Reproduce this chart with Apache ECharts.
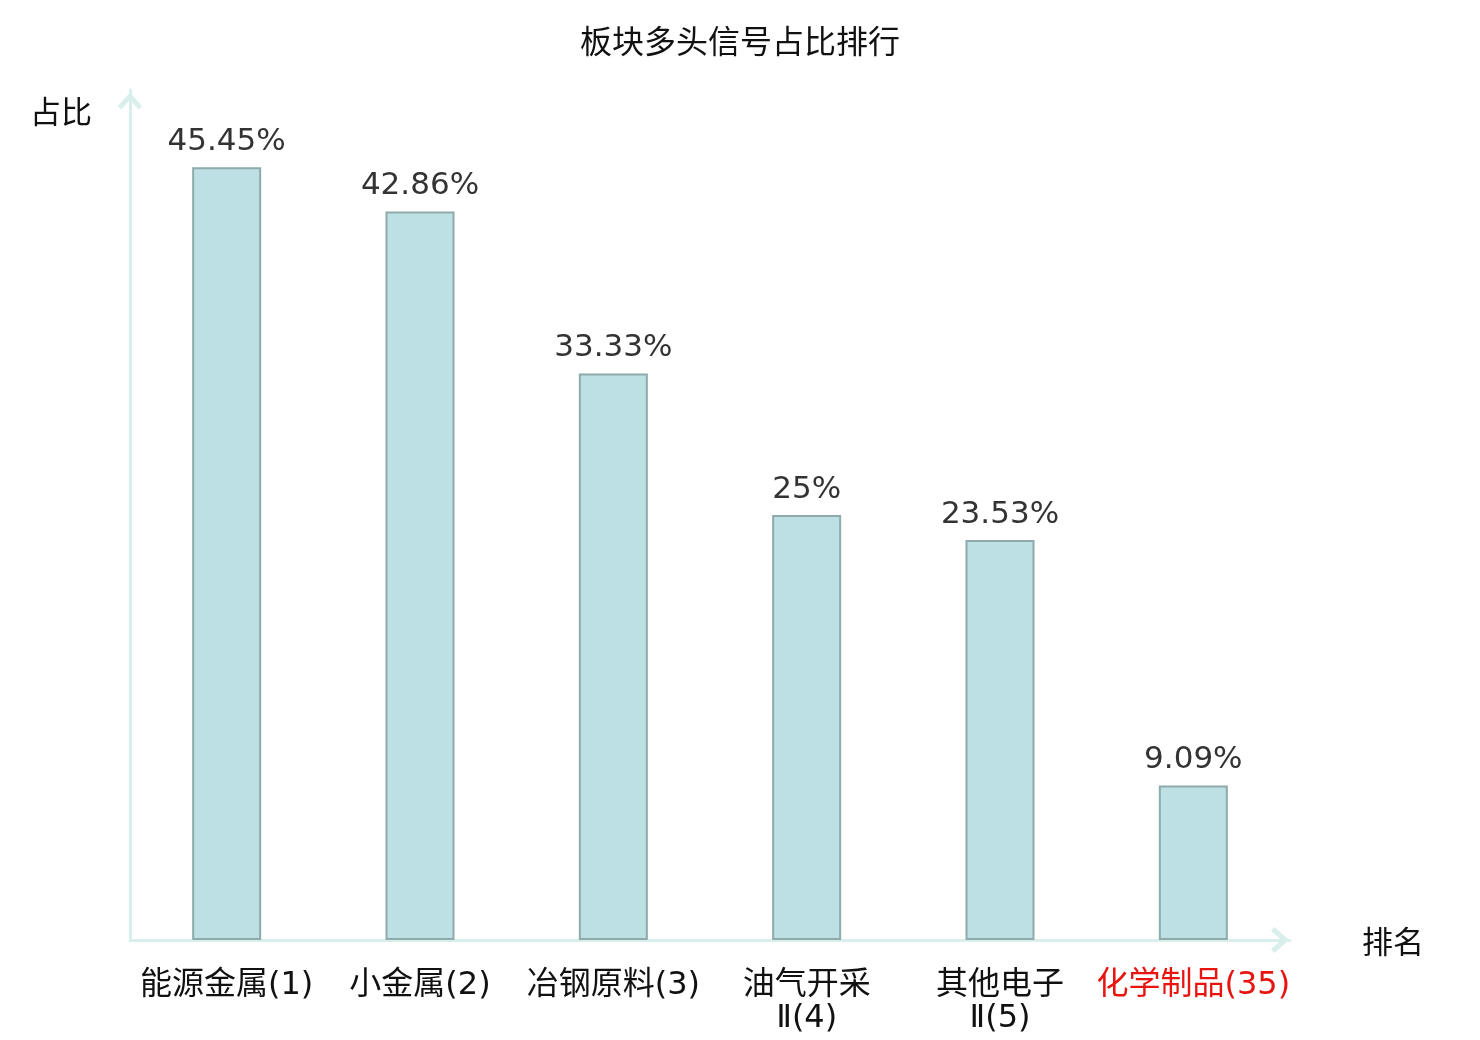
<!DOCTYPE html>
<html>
<head>
<meta charset="utf-8">
<script src="https://cdn.jsdelivr.net/npm/echarts@6/dist/echarts.min.js"></script>
<style>html,body{margin:0;padding:0;background:#fff;}#c{width:1480px;height:1040px;}</style>
</head>
<body>
<div id="c"></div>
<script>
const categories = ['能源金属(1)', '小金属(2)', '冶钢原料(3)', '油气开采\nⅡ(4)', '其他电子\nⅡ(5)', '化学制品(35)'];
const values = [45.45, 42.86, 33.33, 25, 23.53, 9.09];
const highlightCategory = '化学制品(35)';
const xName = '排名';
const yName = '占比';

const FONT = "'DejaVu Sans', 'Noto Sans CJK SC', sans-serif";
const chevron = 'path://M12,0 L24,13.5 L20.6,16.8 L12,7.2 L3.4,16.8 L0,13.5 Z';
const axisColor = '#d8efec';

const chart = echarts.init(document.getElementById('c'));
chart.setOption({
  animation: false,
  textStyle: { fontFamily: FONT },
  title: {
    text: '板块多头信号占比排行',
    left: 'center',
    top: 24,
    textStyle: { fontSize: 32, fontWeight: 'normal', color: '#111', fontFamily: FONT }
  },
  grid: { left: 130, right: 190, top: 90, bottom: 100, containLabel: false },
  xAxis: {
    type: 'category',
    data: categories.map(c => c === highlightCategory ? { value: c, textStyle: { color: '#e8140f' } } : c),
    name: '{a|' + xName + '}',
    nameLocation: 'end',
    nameGap: 72,
    nameTextStyle: {
      align: 'left', verticalAlign: 'middle',
      rich: { a: { fontSize: 31, color: '#111', fontFamily: FONT, padding: [10, 0, 0, 0] } }
    },
    axisLine: {
      show: true,
      lineStyle: { color: axisColor, width: 3 },
      symbol: ['none', chevron],
      symbolSize: [26, 20],
      symbolOffset: [0, -10]
    },
    axisTick: { show: false },
    axisLabel: { interval: 0, fontSize: 32, color: '#111', margin: 29, lineHeight: 33, fontFamily: FONT },
    splitLine: { show: false }
  },
  yAxis: {
    type: 'value',
    min: 0,
    max: 50,
    name: yName,
    nameLocation: 'end',
    nameGap: -25,
    nameTextStyle: { fontSize: 31, color: '#111', align: 'right', verticalAlign: 'middle', padding: [0, 38, 0, 0], fontFamily: FONT },
    axisLine: {
      show: true,
      lineStyle: { color: axisColor, width: 3 },
      symbol: ['none', chevron],
      symbolSize: [24, 22],
      symbolOffset: [0, -11]
    },
    axisTick: { show: false },
    axisLabel: { show: false },
    splitLine: { show: false }
  },
  series: [{
    type: 'bar',
    data: values,
    barWidth: 69,
    itemStyle: { color: '#bce0e3', borderColor: '#8eaaaa', borderWidth: 2 },
    label: {
      show: true,
      position: 'top',
      distance: 10,
      fontSize: 31,
      color: '#333',
      fontFamily: FONT,
      formatter: p => p.value + '%'
    }
  }]
});
</script>
</body>
</html>
